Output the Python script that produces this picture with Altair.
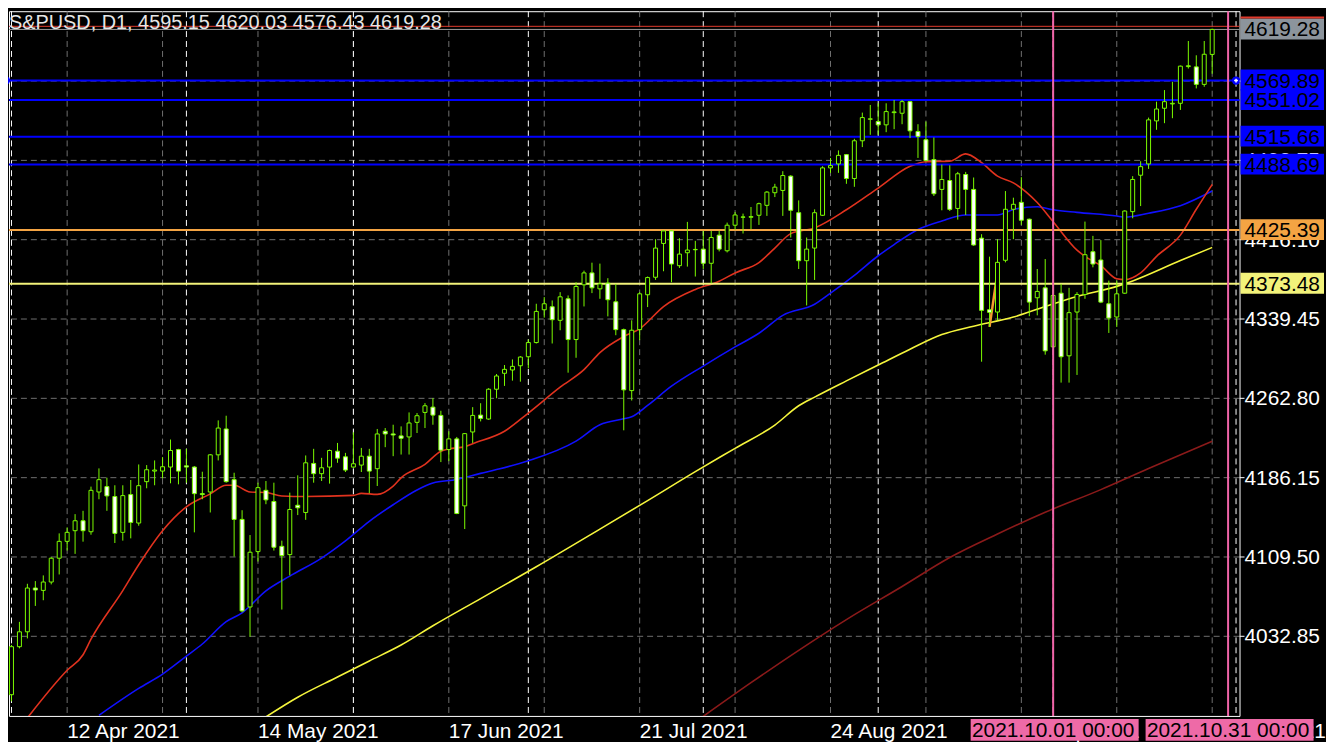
import altair as alt
import pandas as pd

TITLE = "S&PUSD, D1, 4595.15 4620.03 4576.43 4619.28"

# ---- daily candles, bar index 0 = 2021-04-01 ... 151 = 2021-10-29 ----
opens = [3976.4, 4022.8, 4037.2, 4079.5, 4077.2, 4085.3, 4108.3, 4124.6, 4134.9, 4144.5,
 4133.9, 4172.3, 4177.5, 4167.9, 4133.3, 4169.8, 4142.3, 4182.3, 4192.5, 4192.5,
 4196.4, 4213.3, 4197.6, 4196.4, 4170.7, 4172.3, 4208.2, 4233.2, 4184.2, 4145.8,
 4061.2, 4114.7, 4173.9, 4163.1, 4119.8, 4111.8, 4159.5, 4152.5, 4199.9, 4190.0,
 4196.4, 4211.7, 4206.3, 4196.4, 4198.3, 4206.9, 4194.8, 4231.0, 4228.4, 4226.5,
 4225.5, 4239.6, 4249.2, 4254.3, 4246.3, 4213.3, 4223.6, 4158.9, 4230.3, 4246.6,
 4242.8, 4271.6, 4287.0, 4290.2, 4294.3, 4303.0, 4316.7, 4348.4, 4351.3, 4338.2,
 4359.0, 4319.6, 4372.5, 4384.0, 4368.6, 4374.1, 4356.1, 4329.2, 4270.3, 4329.2,
 4362.9, 4379.8, 4412.5, 4424.6, 4391.0, 4403.5, 4406.4, 4407.0, 4393.3, 4420.5,
 4405.4, 4430.1, 4437.8, 4437.8, 4439.7, 4449.3, 4461.5, 4463.7, 4477.5, 4442.2,
 4395.8, 4408.0, 4439.7, 4485.5, 4489.3, 4498.3, 4475.2, 4511.7, 4532.5, 4530.3,
 4527.1, 4538.9, 4538.3, 4549.5, 4520.7, 4512.7, 4493.5, 4464.7, 4473.3, 4446.3,
 4479.1, 4464.7, 4417.6, 4348.4, 4346.2, 4396.2, 4445.5, 4452.2, 4435.9, 4360.0,
 4369.6, 4312.6, 4364.4, 4303.9, 4346.2, 4363.2, 4404.5, 4396.5, 4354.2, 4341.4,
 4364.4, 4443.2, 4478.4, 4489.3, 4530.9, 4543.1, 4547.3, 4547.9, 4583.4, 4583.1,
 4566.2, 4595.15]
highs = [4024.5, 4046.8, 4083.6, 4086.2, 4091.7, 4109.3, 4132.3, 4138.1, 4150.9, 4154.1,
 4177.5, 4195.1, 4186.1, 4178.8, 4178.8, 4183.9, 4198.9, 4198.3, 4202.8, 4206.0,
 4223.0, 4214.0, 4214.0, 4197.3, 4191.9, 4208.9, 4241.5, 4246.0, 4190.9, 4154.7,
 4130.7, 4181.3, 4182.9, 4181.3, 4125.3, 4171.7, 4188.4, 4207.6, 4214.0, 4205.3,
 4213.3, 4219.7, 4210.1, 4230.0, 4214.9, 4214.0, 4233.2, 4234.1, 4237.3, 4235.7,
 4249.2, 4248.6, 4258.2, 4263.0, 4250.8, 4231.0, 4225.5, 4229.3, 4254.3, 4258.1,
 4272.6, 4286.3, 4295.0, 4300.4, 4303.6, 4319.6, 4354.2, 4360.6, 4357.4, 4365.4,
 4362.2, 4375.0, 4386.2, 4393.9, 4393.0, 4378.9, 4373.4, 4330.2, 4338.2, 4365.4,
 4380.5, 4416.6, 4425.3, 4425.3, 4417.6, 4433.3, 4415.0, 4424.6, 4424.6, 4424.6,
 4432.6, 4442.9, 4441.3, 4447.7, 4451.9, 4463.1, 4470.1, 4482.3, 4478.4, 4454.1,
 4418.2, 4445.4, 4487.1, 4495.1, 4502.4, 4498.9, 4513.6, 4538.9, 4546.3, 4547.9,
 4547.9, 4551.1, 4551.1, 4550.2, 4527.7, 4530.3, 4514.9, 4488.7, 4488.0, 4481.6,
 4481.6, 4476.2, 4421.4, 4399.7, 4416.6, 4463.1, 4456.7, 4476.5, 4436.5, 4387.8,
 4397.4, 4372.5, 4373.4, 4369.6, 4365.4, 4433.6, 4419.8, 4415.7, 4376.6, 4376.6,
 4444.5, 4477.5, 4491.9, 4534.1, 4549.5, 4560.7, 4568.7, 4584.4, 4608.1, 4594.3,
 4608.1, 4620.03]
lows = [3970.0, 4021.2, 4030.8, 4062.2, 4067.7, 4083.0, 4092.6, 4115.7, 4112.5, 4124.3,
 4131.0, 4165.3, 4154.1, 4123.0, 4125.3, 4127.5, 4139.7, 4175.9, 4178.8, 4185.5,
 4180.7, 4179.7, 4181.3, 4133.3, 4165.3, 4152.5, 4202.8, 4181.3, 4109.9, 4056.0,
 4032.4, 4105.1, 4160.5, 4115.7, 4058.7, 4091.7, 4150.0, 4145.4, 4181.3, 4182.9,
 4180.4, 4200.5, 4191.6, 4195.7, 4191.6, 4171.1, 4178.1, 4215.6, 4206.9, 4208.5,
 4208.5, 4229.3, 4234.1, 4237.3, 4201.2, 4202.1, 4150.9, 4136.5, 4219.7, 4240.5,
 4242.1, 4262.9, 4274.8, 4279.9, 4278.9, 4291.8, 4315.8, 4340.8, 4315.8, 4328.6,
 4287.6, 4302.0, 4351.6, 4364.5, 4359.0, 4342.0, 4323.8, 4231.9, 4260.7, 4319.0,
 4351.0, 4377.3, 4385.6, 4375.0, 4388.8, 4390.1, 4380.5, 4387.8, 4374.0, 4404.8,
 4403.8, 4425.6, 4422.1, 4426.3, 4430.4, 4439.1, 4457.3, 4439.1, 4418.2, 4387.8,
 4352.6, 4377.2, 4439.0, 4480.7, 4480.7, 4470.1, 4467.2, 4505.6, 4517.5, 4517.5,
 4520.0, 4522.9, 4527.7, 4514.3, 4495.1, 4491.9, 4458.3, 4444.5, 4443.8, 4435.5,
 4440.0, 4410.2, 4298.2, 4331.8, 4338.2, 4394.2, 4416.6, 4430.4, 4342.2, 4343.0,
 4305.0, 4311.9, 4278.0, 4278.0, 4285.4, 4359.0, 4389.4, 4354.8, 4326.0, 4331.8,
 4363.8, 4436.8, 4448.6, 4484.5, 4522.3, 4528.7, 4533.5, 4541.5, 4581.5, 4562.3,
 4563.9, 4576.43]
closes = [4022.8, 4037.2, 4079.5, 4077.6, 4085.3, 4108.3, 4124.6, 4133.3, 4144.5, 4134.9,
 4173.9, 4184.2, 4168.5, 4132.3, 4168.8, 4142.9, 4178.4, 4193.8, 4193.5, 4196.7,
 4212.4, 4192.5, 4196.4, 4170.7, 4169.8, 4208.2, 4234.1, 4182.3, 4145.8, 4057.4,
 4114.1, 4176.5, 4164.7, 4118.9, 4110.9, 4155.4, 4157.0, 4200.5, 4190.0, 4195.7,
 4212.4, 4205.0, 4193.5, 4199.6, 4206.9, 4192.5, 4228.4, 4228.4, 4227.4, 4224.2,
 4239.0, 4246.0, 4255.6, 4246.6, 4212.7, 4223.6, 4151.5, 4228.7, 4246.3, 4243.4,
 4271.6, 4284.4, 4290.8, 4293.7, 4302.7, 4316.7, 4346.8, 4354.2, 4338.8, 4360.9,
 4319.6, 4370.9, 4384.0, 4369.6, 4373.4, 4358.1, 4329.2, 4271.0, 4328.6, 4363.8,
 4379.5, 4408.0, 4424.6, 4392.6, 4402.2, 4406.1, 4406.7, 4393.3, 4418.2, 4407.0,
 4430.1, 4440.0, 4438.1, 4438.4, 4450.9, 4462.1, 4466.9, 4478.1, 4444.5, 4395.8,
 4407.0, 4442.2, 4485.5, 4487.7, 4497.6, 4475.2, 4511.7, 4534.1, 4532.9, 4527.1,
 4539.9, 4539.6, 4549.5, 4521.3, 4515.9, 4492.5, 4460.5, 4474.3, 4445.4, 4479.8,
 4464.7, 4411.0, 4347.8, 4345.9, 4394.2, 4445.5, 4450.3, 4434.9, 4355.8, 4366.1,
 4308.7, 4362.2, 4303.0, 4345.6, 4363.2, 4401.6, 4392.6, 4355.8, 4340.4, 4363.8,
 4443.8, 4474.3, 4486.7, 4531.9, 4542.4, 4549.5, 4547.9, 4583.8, 4584.2, 4566.2,
 4595.3, 4619.28]

# ---- moving averages (bar index, value) ----
red_idx = [2, 7, 9, 10, 14, 16, 19, 22, 25, 27, 28, 30, 32, 34, 37, 43, 44, 46, 48, 49,
           52, 54, 55, 57, 58, 62, 65, 69, 72, 74, 77, 79, 82, 86, 89, 91, 94, 96, 98, 101,
           105, 109, 113, 115, 118, 120, 122, 124, 126, 129, 131, 134, 135, 137, 139, 140,
           142, 144, 147, 149, 151]
red_val = [3954, 4000, 4015, 4030, 4077, 4102, 4134.9, 4158, 4170.5, 4178.8, 4178.8, 4172.3,
           4171.8, 4168.5, 4168, 4169, 4171, 4170, 4178, 4186, 4199, 4211.7, 4214, 4216, 4219,
           4231, 4248.6, 4273.6, 4290.5, 4307, 4322.5, 4330, 4351.5, 4368, 4376, 4384, 4394,
           4408, 4422, 4427.5, 4445, 4466, 4487, 4491.5, 4492, 4499, 4490.5, 4477.5, 4471,
           4452, 4433.5, 4406, 4400, 4391, 4378.3, 4377.5, 4384, 4400, 4420.5, 4445.5, 4469.5]
blue_idx = [11, 16, 19, 22, 24, 27, 29, 32, 35, 39, 42, 45, 48, 51, 53, 56, 59, 61, 65, 71,
            74, 77, 78, 80, 83, 87, 91, 94, 97, 101, 103, 106, 109, 111, 114, 117, 120, 124,
            126, 129, 131, 134, 139, 140, 143, 147, 151]
blue_val = [3956.5, 3982.5, 3996.3, 4013.7, 4025.4, 4047, 4055.5, 4076.8, 4091, 4108.4, 4125,
            4144, 4160, 4174.3, 4181, 4184.4, 4190.3, 4194, 4202.5, 4221.5, 4237.3, 4243, 4245,
            4256, 4274.5, 4294, 4312.5, 4325.7, 4343, 4353.7, 4364.4, 4381.7, 4400.6, 4411.4,
            4426, 4434.2, 4440, 4440, 4445.3, 4448, 4445, 4442.5, 4439, 4438, 4441.7, 4448.9,
            4463.1]
yel_idx = [32, 36, 41, 45, 49, 53, 59, 66, 74, 80, 86, 91, 96, 99, 101, 105, 109, 113, 117,
           121, 126, 130, 134, 139, 141, 147, 151]
yel_val = [3955, 3974, 3993.5, 4009, 4024.4, 4043, 4069.3, 4100, 4136.4, 4164, 4192, 4214.5,
           4237, 4255.6, 4264, 4279.7, 4295, 4310.3, 4324.4, 4332.5, 4341.3, 4351.5, 4361.3,
           4371, 4376.3, 4396, 4408.6]
dred_idx = [86, 93, 99, 105, 112, 118, 124, 130, 137, 143, 151]
dred_val = [3950, 3988, 4019.3, 4049, 4081, 4109, 4131.7, 4152.7, 4174.6, 4195, 4221.3]

# ---- horizontal levels ----
blue_levels = [4569.89, 4551.02, 4515.66, 4488.69]
orange_level = 4425.39
yellow_level = 4373.48
bid = 4619.28
ask = 4622.3
seg_idx = [123, 124]          # short orange segment
seg_val = [4331.8, 4384.6]

# ---- axes ----
y_ticks = [4032.85, 4109.50, 4186.15, 4262.80, 4339.45, 4416.10, 4492.75, 4569.40]
x_grid = [7, 19, 31, 43, 55, 67, 79, 91, 103, 115, 127, 139, 151]
month_sep = [0, 22, 43, 65, 87, 109, 131, 154]
date_idx = [7, 31, 55, 79, 103, 127, 151]
date_lab = ["12 Apr 2021", "14 May 2021", "17 Jun 2021", "21 Jul 2021",
            "24 Aug 2021", "27 Sep 2021", "29 Oct 2021"]
vline_idx = [131, 153]
vline_lab = ["2021.10.01 00:00", "2021.10.31 00:00"]

GREEN = "#7CFC00"
GRID = "#707070"
FONT = "Liberation Sans"
W, H = 1238, 709
xs = alt.Scale(domain=[-0.3125, 154.4375], nice=False, zero=False)
ys = alt.Scale(domain=[3955.9, 4636.9], nice=False, zero=False)

n = len(opens)
cdf = pd.DataFrame({
    "i": list(range(n)), "o": opens, "h": highs, "l": lows, "c": closes,
})
cdf["top"] = cdf[["o", "c"]].max(axis=1)
cdf["bot"] = cdf[["o", "c"]].min(axis=1)
cdf["kind"] = ["bull" if c >= o else "bear" for o, c in zip(opens, closes)]
cdf["xl"] = cdf["i"] - 0.25
cdf["xr"] = cdf["i"] + 0.25

def X(field):
    return alt.X(field, type="quantitative", scale=xs, axis=None)

def Y(field):
    return alt.Y(field, type="quantitative", scale=ys, axis=None)

# grid lines
xg = alt.Chart(pd.DataFrame({"g": x_grid})).mark_rule(
    color=GRID, strokeDash=[6, 4], strokeWidth=1).encode(x=X("g"))
yg_df = pd.DataFrame({"p": y_ticks, "t": [f"{v:.2f}" for v in y_ticks]})
yg = alt.Chart(yg_df).mark_rule(color=GRID, strokeDash=[6, 4], strokeWidth=1).encode(y=Y("p"))
yticks = alt.Chart(yg_df).mark_rule(color="white", strokeWidth=1).encode(
    y=Y("p"), x=alt.value(W), x2=alt.value(W + 5))
ylabels = alt.Chart(yg_df).mark_text(align="left", baseline="middle", dy=1, font=FONT,
                                     fontSize=21, color="white").encode(
    y=Y("p"), x=alt.value(W + 5), text="t:N")

sep_df = pd.DataFrame({"m": month_sep})
seps = alt.Chart(sep_df).mark_rule(color="white", strokeDash=[6, 4], strokeWidth=1).encode(x=X("m"))

def hline(values, color, width):
    return alt.Chart(pd.DataFrame({"p": values})).mark_rule(color=color, strokeWidth=width).encode(y=Y("p"))

lines_h = [
    hline([ask], "#E03A2C", 1),
    hline([bid], "#9A9A9A", 1),
    hline(blue_levels, "#0000FF", 2),
    hline([orange_level], "#F4A443", 2),
    hline([yellow_level], "#F2F27A", 2),
]

def ma(idx, val, color):
    d = pd.DataFrame({"i": idx, "v": val})
    return alt.Chart(d).mark_line(color=color, strokeWidth=1.6, clip=True,
                                  interpolate="monotone").encode(x=X("i"), y=Y("v"))

mas = [
    ma(dred_idx, dred_val, "#8B1A1A"),
    ma(yel_idx, yel_val, "#F5F53C"),
    ma(blue_idx, blue_val, "#1010FF"),
    ma(red_idx, red_val, "#E0321E"),
]
seg = alt.Chart(pd.DataFrame({"i": seg_idx, "v": seg_val})).mark_line(
    color="#F49A30", strokeWidth=2.5).encode(x=X("i"), y=Y("v"))

wicks = alt.Chart(cdf).mark_rule(color=GREEN, strokeWidth=1).encode(x=X("i"), y=Y("l"), y2="h")
bodies = alt.Chart(cdf).mark_rect(stroke=GREEN, strokeWidth=1).encode(
    x=X("xl"), x2="xr", y=Y("top"), y2="bot",
    fill=alt.Fill("kind:N", scale=alt.Scale(domain=["bull", "bear"], range=["black", "white"]), legend=None),
)

vl_df = pd.DataFrame({"i": vline_idx, "i2": vline_idx, "t": vline_lab})
vlines = alt.Chart(vl_df).mark_rule(color="#F064A8", strokeWidth=2).encode(x=X("i"))

# object handles on the 4569.89 line
handle_df = pd.DataFrame({"i": [-0.7, 154.0], "p": [blue_levels[0]] * 2})
handles = alt.Chart(handle_df).mark_point(shape="circle", filled=True, color="#0000FF",
                                          size=70, opacity=1).encode(x=X("i"), y=Y("p"))
handles_c = alt.Chart(handle_df).mark_point(shape="cross", filled=True, color="white",
                                            size=14, opacity=1).encode(x=X("i"), y=Y("p"))

# right price labels
box_p = [bid] + blue_levels + [orange_level, yellow_level]
box_fill = ["#8C949C", "#0000FF", "#0000FF", "#0000FF", "#0000FF", "#F4A443", "#F2F27A"]
box_df = pd.DataFrame({"p": box_p, "p2": box_p, "f": box_fill, "t": [f"{v:.2f}" for v in box_p]})
boxes = alt.Chart(box_df).mark_rect(yOffset=-11, y2Offset=10).encode(
    y=Y("p"), y2="p2", x=alt.value(W + 1), x2=alt.value(W + 85),
    fill=alt.Fill("f:N", scale=None),
)
ask_mark = alt.Chart(pd.DataFrame({"p": [bid]})).mark_rule(color="#E03A2C", strokeWidth=2, yOffset=-12).encode(
    y=Y("p"), x=alt.value(W + 1), x2=alt.value(W + 85))
box_txt = alt.Chart(box_df).mark_text(align="left", baseline="middle", dy=1, font=FONT,
                                      fontSize=21, color="black").encode(
    y=Y("p"), x=alt.value(W + 5), text="t:N")

# bottom time labels
d_df = pd.DataFrame({"i": date_idx, "t": date_lab})
dates = alt.Chart(d_df).mark_text(align="left", baseline="alphabetic", font=FONT, fontSize=21,
                                  color="white").encode(x=X("i"), y=alt.value(H + 22), text="t:N")
pink_boxes = alt.Chart(vl_df).mark_rect(xOffset=-83, x2Offset=86, color="#EE6AA7").encode(
    x=X("i"), x2="i2", y=alt.value(H + 3), y2=alt.value(H + 25))
pink_txt = alt.Chart(vl_df).mark_text(align="center", baseline="alphabetic", font=FONT,
                                      fontSize=21, color="black").encode(
    x=X("i"), y=alt.value(H + 21), text="t:N")

title = alt.Chart(pd.DataFrame({"t": [TITLE]})).mark_text(
    align="left", baseline="alphabetic", font=FONT, fontSize=20, color="#E6E6E6").encode(
    x=alt.value(0), y=alt.value(18), text="t:N")

chart = alt.layer(
    xg, yg, seps, *mas, seg, *lines_h, wicks, bodies, vlines, handles, handles_c,
    yticks, ylabels, boxes, ask_mark, box_txt, dates, pink_boxes, pink_txt, title,
).properties(
    width=W, height=H,
    padding={"left": 1, "top": 1, "right": 87, "bottom": 24},
    autosize=alt.AutoSizeParams(type="none"),
    background="black",
).configure_view(stroke="white", strokeWidth=1)

chart.save("out.html", embed_options={"renderer": "svg", "actions": False})
